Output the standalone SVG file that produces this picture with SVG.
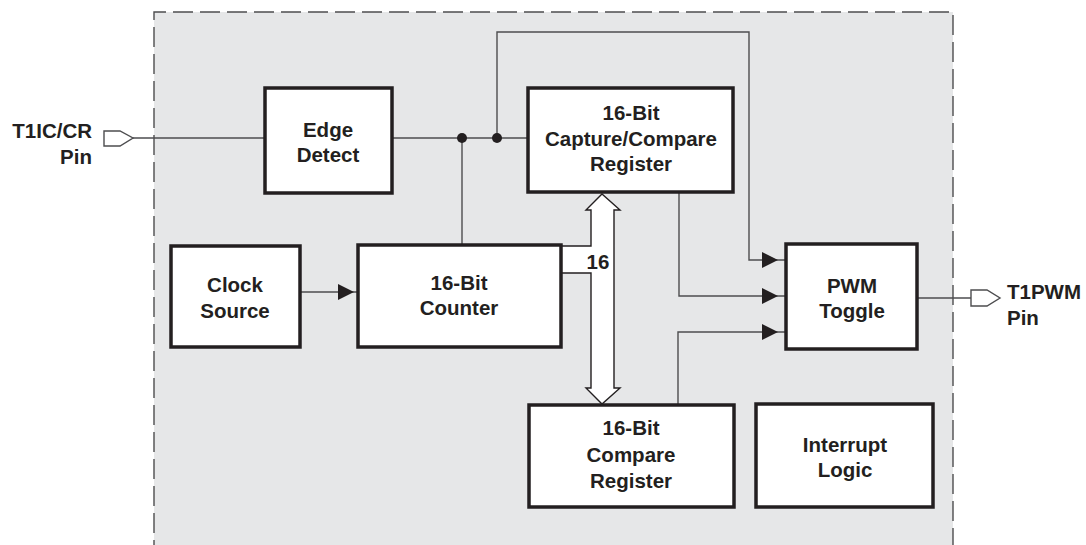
<svg xmlns="http://www.w3.org/2000/svg" width="1086" height="545" viewBox="0 0 1086 545">
<style>
.box{fill:#fff;stroke:#231f20;stroke-width:3.5}
.wire{fill:none;stroke:#4d4d4f;stroke-width:1.4}
.pin{fill:#fff;stroke:#4d4d4f;stroke-width:1.4}
.t{font-family:"Liberation Sans",Arial,sans-serif;font-weight:bold;font-size:20.5px;fill:#231f20;text-anchor:middle}
.l{font-family:"Liberation Sans",Arial,sans-serif;font-weight:bold;font-size:20.5px;fill:#231f20}
.ah{fill:#231f20}
</style>
<defs>
<polygon id="arr" points="0,0 -16,-8 -16,8" class="ah"/>
</defs>
<rect x="0" y="0" width="1086" height="545" fill="#fff"/>
<g id="boundary">
<rect x="154" y="12" width="799" height="545" fill="#e6e7e8"/>
<path d="M154,560 V12 H953 V560" fill="none" stroke="#4d4d4f" stroke-width="1.4" stroke-dasharray="20 7"/>
</g>
<g id="connectors">
<path class="wire" d="M133,138 H265"/>
<path class="wire" d="M392,138 H528"/>
<path class="wire" d="M462,138 V245"/>
<path class="wire" d="M497,138 V32 H749 V260 H787"/>
<path class="wire" d="M679,192 V296 H787"/>
<path class="wire" d="M678,405 V332 H787"/>
<path class="wire" d="M300,292 H358"/>
<path class="wire" d="M918,298 H971"/>
<circle cx="462" cy="138" r="5" class="ah"/>
<circle cx="497" cy="138" r="5" class="ah"/>
<use href="#arr" x="778" y="260"/>
<use href="#arr" x="778" y="296"/>
<use href="#arr" x="778" y="332"/>
<use href="#arr" x="354" y="292"/>
<polygon id="bus" points="602,194 620,210 614,210 614,388 620,388 602,404 586,388 591,388 591,273 561,273 561,246 591,246 591,210 586,210" fill="#fff" stroke="#231f20" stroke-width="1.4"/>
<text class="t" x="598" y="269">16</text>
</g>
<g id="pin-in">
<polygon class="pin" points="104,131 120,131 133,138 120,146 104,146"/>
<text class="l" x="92" y="138" text-anchor="end">T1IC/CR</text>
<text class="l" x="92" y="164" text-anchor="end">Pin</text>
</g>
<g id="pin-out">
<polygon class="pin" points="971,290 987,290 1000,298 987,306 971,306"/>
<text class="l" x="1007" y="299">T1PWM</text>
<text class="l" x="1007" y="325">Pin</text>
</g>
<g id="edge-detect">
<rect class="box" x="265" y="88" width="127" height="105"/>
<text class="t" x="328" y="137">Edge</text>
<text class="t" x="328" y="162">Detect</text>
</g>
<g id="capture-compare">
<rect class="box" x="528" y="88" width="205" height="104"/>
<text class="t" x="631" y="120">16-Bit</text>
<text class="t" x="631" y="146">Capture/Compare</text>
<text class="t" x="631" y="171">Register</text>
</g>
<g id="clock-source">
<rect class="box" x="171" y="246" width="129" height="101"/>
<text class="t" x="235" y="292">Clock</text>
<text class="t" x="235" y="318">Source</text>
</g>
<g id="counter">
<rect class="box" x="358" y="245" width="203" height="102"/>
<text class="t" x="459" y="290">16-Bit</text>
<text class="t" x="459" y="315">Counter</text>
</g>
<g id="pwm-toggle">
<rect class="box" x="786" y="244" width="131" height="105"/>
<text class="t" x="852" y="293">PWM</text>
<text class="t" x="852" y="318">Toggle</text>
</g>
<g id="compare-register">
<rect class="box" x="529" y="405" width="205" height="102"/>
<text class="t" x="631" y="435">16-Bit</text>
<text class="t" x="631" y="462">Compare</text>
<text class="t" x="631" y="488">Register</text>
</g>
<g id="interrupt-logic">
<rect class="box" x="756" y="404" width="177" height="103"/>
<text class="t" x="845" y="452">Interrupt</text>
<text class="t" x="845" y="477">Logic</text>
</g>
</svg>
